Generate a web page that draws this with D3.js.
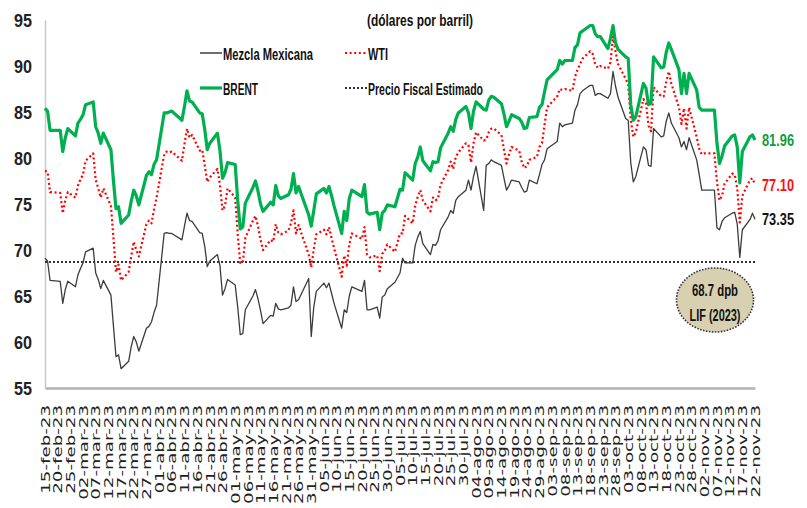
<!DOCTYPE html>
<html>
<head>
<meta charset="utf-8">
<script src="https://cdn.jsdelivr.net/npm/d3@7"></script>
<style>
  body { margin: 0; background: #fff; }
  svg { display: block; }
</style>
</head>
<body>
<svg id="chart"></svg>
<script>
// Datos diarios 2023 (dólares por barril)
const fechas = [
  "02-15","02-16","02-17","02-21","02-22","02-23","02-24","02-27","02-28",
  "03-01","03-02","03-03","03-06","03-07","03-08","03-09","03-10","03-13","03-14","03-15","03-16","03-17",
  "03-20","03-21","03-22","03-23","03-24","03-27","03-28","03-29","03-30","03-31",
  "04-03","04-04","04-05","04-06","04-10","04-11","04-12","04-13","04-14","04-17","04-18","04-19","04-20","04-21",
  "04-24","04-25","04-26","04-27","04-28",
  "05-01","05-02","05-03","05-04","05-05","05-08","05-09","05-10","05-11","05-12","05-15","05-16","05-17","05-18","05-19",
  "05-22","05-23","05-24","05-25","05-26","05-30","05-31",
  "06-01","06-02","06-05","06-06","06-07","06-08","06-09","06-12","06-13","06-14","06-15","06-16","06-20","06-21","06-22","06-23",
  "06-26","06-27","06-28","06-29","06-30",
  "07-03","07-05","07-06","07-07","07-10","07-11","07-12","07-13","07-14","07-17","07-18","07-19","07-20","07-21",
  "07-24","07-25","07-26","07-27","07-28","07-31",
  "08-01","08-02","08-03","08-04","08-07","08-08","08-09","08-10","08-11","08-14","08-15","08-16","08-17","08-18",
  "08-21","08-22","08-23","08-24","08-25","08-28","08-29","08-30","08-31",
  "09-01","09-05","09-06","09-07","09-08","09-11","09-12","09-13","09-14","09-15","09-18","09-19","09-20","09-21","09-22",
  "09-25","09-26","09-27","09-28","09-29",
  "10-02","10-03","10-04","10-05","10-06","10-09","10-10","10-11","10-12","10-13","10-16","10-17","10-18","10-19","10-20",
  "10-23","10-24","10-25","10-26","10-27","10-30","10-31",
  "11-01","11-02","11-03","11-06","11-07","11-08","11-09","11-10","11-13","11-14","11-15","11-16","11-17","11-20","11-21","11-22"
];

const brent = [
  85.4,85.1,83.0,83.0,80.7,82.2,83.2,82.4,83.8,
  84.2,84.7,85.8,86.1,83.4,82.7,81.6,82.7,80.9,77.5,74.5,74.7,72.9,
  73.8,75.3,76.5,75.9,74.9,78.1,78.5,78.2,79.3,79.8,
  84.9,84.9,85.0,85.1,84.1,85.6,87.3,86.2,86.1,84.9,84.8,83.1,80.9,81.6,
  82.7,80.8,77.8,78.4,79.5,
  79.3,75.4,72.3,72.5,75.1,76.8,77.5,76.4,75.0,74.2,75.2,74.9,77.0,75.9,75.6,
  76.0,76.6,78.3,76.2,76.9,73.8,72.6,
  74.3,76.1,76.7,76.2,76.9,75.9,74.8,71.8,74.2,73.2,75.6,76.5,75.8,77.1,74.1,73.9,
  74.1,72.2,74.0,74.3,74.9,
  74.7,76.6,76.5,78.4,77.6,79.4,80.1,81.2,79.7,78.6,79.6,79.5,79.6,81.1,
  82.7,83.4,82.9,84.2,84.9,85.6,
  84.9,83.2,85.1,86.1,85.3,85.2,86.3,86.7,86.6,85.9,84.8,83.4,84.0,84.7,
  84.3,83.9,83.2,83.3,84.4,84.5,85.5,85.8,87.2,
  88.5,89.6,90.6,90.2,90.6,90.6,92.0,92.3,93.6,93.8,94.4,94.4,93.5,93.2,93.2,
  91.9,93.0,94.4,92.5,91.8,
  91.0,90.8,85.8,84.1,84.5,88.1,87.6,85.8,86.0,91.0,89.8,89.9,91.5,92.5,91.8,
  89.6,87.0,89.2,87.0,89.2,87.4,85.5,
  85.2,85.2,85.2,85.2,81.6,79.4,80.2,81.3,82.4,82.5,81.2,77.3,80.7,82.3,82.5,81.96
];

const wti = [
  78.6,78.5,76.3,76.2,74.0,75.4,76.3,75.7,77.0,
  77.7,78.2,79.7,80.5,77.6,76.7,75.7,76.7,74.8,71.3,67.6,68.4,66.7,
  67.6,69.3,70.9,70.0,69.3,72.8,73.2,72.9,74.4,75.7,
  80.4,80.7,80.6,80.7,79.7,81.5,83.2,82.2,82.5,80.8,80.9,79.2,77.4,77.9,
  78.8,77.1,74.3,74.8,76.7,
  75.7,71.7,68.6,68.6,71.3,73.2,73.7,72.6,71.1,70.0,71.1,70.9,72.8,71.9,71.7,
  72.1,72.9,74.3,71.8,72.7,69.5,68.1,
  70.1,71.7,72.2,71.7,72.5,71.3,70.2,67.1,69.4,68.3,70.6,71.8,71.2,72.5,69.5,69.2,
  69.4,67.7,69.6,69.9,70.6,
  69.8,71.8,71.8,73.7,72.9,74.8,75.8,76.5,75.4,74.2,75.7,75.4,75.6,77.1,
  78.7,79.6,78.8,80.1,80.6,81.6,
  81.4,79.5,81.6,82.8,81.9,82.0,82.8,83.2,83.2,82.5,80.9,79.4,80.4,81.2,
  80.8,79.6,78.9,79.1,79.8,80.1,81.2,81.6,83.6,
  85.5,86.7,87.5,87.4,87.5,87.3,88.8,89.6,90.2,90.8,91.6,91.3,90.2,89.8,90.0,
  89.7,90.4,93.2,91.6,90.2,
  88.6,88.0,84.2,82.3,82.8,86.4,86.0,83.5,82.9,87.7,86.7,86.7,88.3,89.4,88.1,
  85.5,83.7,85.4,83.2,85.5,82.3,81.0,
  80.4,80.5,80.5,80.5,77.4,75.4,75.9,77.2,78.3,78.2,76.7,73.0,75.9,77.6,77.8,77.10
];

const mezcla = [
  69.1,68.8,66.7,66.6,64.2,65.7,66.6,66.0,67.3,
  68.0,68.6,69.8,70.2,67.5,66.8,65.8,66.7,65.1,61.7,58.4,58.6,57.1,
  57.9,59.5,60.6,60.0,59.0,61.5,61.7,62.2,63.2,64.0,
  71.8,71.9,71.8,71.8,71.1,72.6,74.0,73.2,73.1,71.9,71.8,70.4,68.2,68.8,
  69.5,68.3,65.1,65.8,66.8,
  66.2,63.8,60.8,60.9,63.5,65.0,65.7,64.7,63.4,62.0,62.9,62.8,64.2,63.6,63.5,
  63.7,64.0,66.0,64.4,64.6,66.9,60.6,
  63.8,65.5,66.4,65.9,66.4,65.3,64.2,61.5,63.5,63.2,65.0,66.0,65.5,66.7,63.5,63.5,
  63.8,62.6,64.9,65.1,65.8,
  66.5,67.5,69.1,68.6,68.6,70.5,71.4,72.0,70.7,69.5,70.6,70.5,71.0,72.2,
  73.6,74.3,74.0,75.4,75.8,76.5,
  77.6,76.5,78.0,79.1,74.3,79.2,79.4,79.8,79.6,79.2,77.8,76.5,77.0,77.6,
  77.4,76.8,76.3,76.4,77.6,77.2,78.2,79.3,79.8,
  81.0,81.8,83.8,83.4,83.6,83.8,85.2,85.8,87.0,87.3,87.9,87.9,86.8,87.0,87.0,
  86.5,87.0,89.4,87.8,86.6,
  84.3,84.1,79.5,77.4,78.0,81.2,80.9,79.2,79.1,83.2,82.3,82.4,84.0,84.9,83.8,
  82.2,81.2,81.8,80.9,82.2,79.8,78.2,
  76.5,76.5,76.5,76.5,72.4,72.2,73.1,73.5,74.0,74.1,72.8,69.2,72.2,73.3,74.0,73.35
];

const precioFiscal = 68.7;
const yTicks = [55, 60, 65, 70, 75, 80, 85, 90, 95];
const mesesCortos = ["ene","feb","mar","abr","may","jun","jul","ago","sep","oct","nov","dic"];

const width = 807, height = 508;
const margin = { top: 20, right: 52, bottom: 120, left: 45 };

const parse = d3.timeParse("%Y-%m-%d");
const dias = fechas.map(f => parse("2023-" + f));

const svg = d3.select("#chart")
  .attr("width", width)
  .attr("height", height)
  .attr("viewBox", [0, 0, width, height]);

// Scales
const x = d3.scaleTime()
  .domain(d3.extent(dias))
  .range([margin.left, width - margin.right]);

const y = d3.scaleLinear()
  .domain([55, 95])
  .range([height - margin.bottom, margin.top]);

const locale = d3.timeFormatLocale({
  dateTime: "%x, %X", date: "%d/%m/%Y", time: "%H:%M:%S",
  periods: ["AM", "PM"],
  days: ["domingo","lunes","martes","miércoles","jueves","viernes","sábado"],
  shortDays: ["dom","lun","mar","mié","jue","vie","sáb"],
  months: ["enero","febrero","marzo","abril","mayo","junio","julio","agosto","septiembre","octubre","noviembre","diciembre"],
  shortMonths: mesesCortos
});
const fmt = locale.format("%d-%b-%y");

const series = [
  { name: "Mezcla Mexicana", values: mezcla, color: "#3c3c3c", width: 1.3, dash: null },
  { name: "WTI", values: wti, color: "#ff0000", width: 2.2, dash: "2,2.6" },
  { name: "BRENT", values: brent, color: "#00b050", width: 3.2, dash: null }
];

// Axes
const xTicks = d3.timeDay.range(dias[0], d3.timeDay.offset(dias[dias.length - 1], 1), 5);

const xAxis = svg.append("g")
  .attr("transform", `translate(0,${height - margin.bottom})`)
  .call(d3.axisBottom(x).tickValues(xTicks).tickFormat(fmt).tickSize(0).tickSizeOuter(0));
xAxis.select(".domain").attr("stroke", "#b3b3b3").attr("stroke-width", 2.5);
xAxis.selectAll("text")
  .attr("x", 0).attr("y", 0).attr("dy", "0.35em")
  .attr("transform", "translate(0,17) rotate(-90) scale(1.52,1)")
  .attr("text-anchor", "end")
  .attr("fill", "#222")
  .style("font-family", "'DejaVu Sans', sans-serif")
  .style("font-size", "12px");

const yAxis = svg.append("g")
  .attr("transform", `translate(${margin.left},0)`)
  .call(d3.axisLeft(y).tickValues(yTicks).tickSize(0).tickSizeOuter(0));
yAxis.select(".domain").attr("stroke", "#c8c8c8").attr("stroke-width", 1.5);
yAxis.selectAll("text")
  .attr("x", -13)
  .attr("dy", "0.35em")
  .attr("fill", "#222")
  .attr("textLength", 18)
  .attr("lengthAdjust", "spacingAndGlyphs")
  .style("font-family", "'Liberation Sans', Arial, sans-serif")
  .style("font-weight", "bold")
  .style("font-size", "19px");

// Precio fiscal line
svg.append("line")
  .attr("x1", x(dias[0]))
  .attr("x2", x(dias[dias.length - 1]))
  .attr("y1", y(precioFiscal))
  .attr("y2", y(precioFiscal))
  .attr("stroke", "#333")
  .attr("stroke-width", 2)
  .attr("stroke-dasharray", "2,2");

// Lines
const line = vals => d3.line()
  .x((d, i) => x(dias[i]))
  .y(d => y(d))(vals);

series.forEach(s => {
  svg.append("path")
    .attr("d", line(s.values))
    .attr("fill", "none")
    .attr("stroke", s.color)
    .attr("stroke-width", s.width)
    .attr("stroke-linejoin", "round")
    .attr("stroke-dasharray", s.dash);
});

// End labels
const font = "'Liberation Sans', Arial, sans-serif";
function label(px, py, txt, opts) {
  return svg.append("text")
    .attr("x", px)
    .attr("y", py)
    .attr("dy", "0.35em")
    .attr("text-anchor", opts.anchor || "start")
    .attr("fill", opts.color || "#111")
    .attr("textLength", opts.len)
    .attr("lengthAdjust", "spacingAndGlyphs")
    .style("font-family", font)
    .style("font-weight", "bold")
    .style("font-size", (opts.size || 16) + "px")
    .text(txt);
}

const last = dias.length - 1;
label(x(dias[last]) + 7, y(brent[last]), brent[last].toFixed(2), { color: "#119c3a", len: 32, size: 17 });
label(x(dias[last]) + 7, y(wti[last]), wti[last].toFixed(2), { color: "#ff1010", len: 32, size: 17 });
label(x(dias[last]) + 7, y(mezcla[last]), mezcla[last].toFixed(2), { color: "#111", len: 32, size: 17 });

// Title
label(420, 20, "(dólares por barril)", { anchor: "middle", len: 106, size: 16 });

// Legend
const legend = [
  { name: "Mezcla Mexicana", x: 200, y: 53, color: "#3c3c3c", width: 1.5, dash: null, len: 90 },
  { name: "WTI", x: 345, y: 53, color: "#ff0000", width: 2.2, dash: "2,2.6", len: 20 },
  { name: "BRENT", x: 200, y: 88, color: "#00b050", width: 3.2, dash: null, len: 35 },
  { name: "Precio Fiscal Estimado", x: 345, y: 88, color: "#333", width: 2, dash: "2,2", len: 115 }
];
legend.forEach(l => {
  svg.append("line")
    .attr("x1", l.x).attr("x2", l.x + 22)
    .attr("y1", l.y).attr("y2", l.y)
    .attr("stroke", l.color)
    .attr("stroke-width", l.width)
    .attr("stroke-dasharray", l.dash);
  label(l.x + 23, l.y + 1, l.name, { len: l.len, size: 16 });
});

// LIF bubble
const cx = x(dias[last]) - 40, cy = y(precioFiscal) + 38;
svg.append("ellipse")
  .attr("cx", cx).attr("cy", cy)
  .attr("rx", 38.5).attr("ry", 32)
  .attr("fill", "#d8d1b1")
  .attr("stroke", "#333")
  .attr("stroke-width", 1.6)
  .attr("stroke-dasharray", "1.6,1.4");
label(cx, cy - 10, `${precioFiscal} dpb`, { anchor: "middle", len: 46, size: 16 });
label(cx, cy + 15, "LIF (2023)", { anchor: "middle", len: 51, size: 16 });
</script>
</body>
</html>
